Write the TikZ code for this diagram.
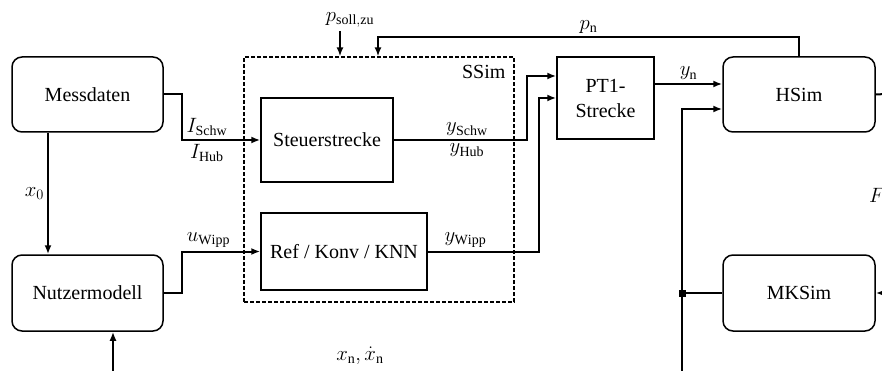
\documentclass[tikz,border=0pt]{standalone}
\usepackage{fontspec}
\setmainfont{Liberation Serif}
\usetikzlibrary{arrows.meta, positioning, calc}

\begin{document}
\begin{tikzpicture}[x=1pt, y=-1pt, >={Latex[length=9pt,width=7pt]}, font=\fontsize{20}{25}\selectfont,
		block/.style={draw, rectangle, line width=1.5pt, align=center, inner sep=0pt},
		rblock/.style={block, rounded corners=10pt},
		conn/.style={line width=2pt},
		lbl/.style={inner sep=3pt}]
				\useasboundingbox (0,0) rectangle (882,371);
				\clip (0,0) rectangle (882,371);
				
				\node[rblock, minimum width=151pt, minimum height=75pt] (mess) at (87.5,94.5) {Messdaten};
				\node[rblock, minimum width=151pt, minimum height=76pt] (nutzer) at (87.5,293) {Nutzermodell};
				
				\node[draw, line width=1.2pt, dash pattern=on 4pt off 2pt, minimum width=270pt, minimum height=245pt] (ssim) at (379,179.5) {};
				\node[anchor=north east, inner sep=0pt] (ssimlbl) at ([shift={(-9pt,-9pt)}]ssim.north east) {SSim};
				
				\node[block, minimum width=132pt, minimum height=84pt] (steuer) at (327,140) {Steuerstrecke};
				\node[block, minimum width=166pt, minimum height=77pt] (refk) at (344,251.5) {Ref / Konv / KNN};
				
				\node[block, minimum width=97pt, minimum height=82pt] (pt1) at (605.5,98) {PT1-\\Strecke};
				\node[rblock, minimum width=152pt, minimum height=75pt] (hsim) at (799,94.5) {HSim};
				\node[rblock, minimum width=152pt, minimum height=76pt] (mksim) at (799,293) {MKSim};
				
				\node[fill, minimum size=7pt, inner sep=0pt] (junc) at (682,293) {};
				\node (psoll) at (350,20) {$p_{\mathrm{soll,zu}}$};
				\node[anchor=west, inner sep=0pt] (flbl) at (869,195) {$F$};
				\coordinate (pin) at (340,31);
				\coordinate (fb) at (682,371.5);
				\coordinate (rout) at (905,93);
				
				\draw[->, conn] ([xshift=-39.5pt]mess.south) -- ([xshift=-39.5pt]nutzer.north) node[midway, left, lbl] {$x_0$};
				\draw[->, conn] (mess.east) -- ++(18,0) |- (steuer.west)
					node[pos=0.66, above, lbl] {$I_{\mathrm{Schw}}$} node[pos=0.66, below, lbl] {$I_{\mathrm{Hub}}$};
				\draw[->, conn] (nutzer.east) -- ++(18,0) |- (refk.west) node[pos=0.67, above, lbl] {$u_{\mathrm{Wipp}}$};
				\draw[->, conn] (steuer.east) -- ++(133,0) node[pos=0.55, above, lbl] {$y_{\mathrm{Schw}}$} node[pos=0.55, below, lbl] {$y_{\mathrm{Hub}}$}
					|- ([yshift=22pt]pt1.west);
				\draw[->, conn] (refk.east) -- ++(111,0) node[pos=0.34, above, lbl] {$y_{\mathrm{Wipp}}$} |- (pt1.west);
				\draw[->, conn] ([yshift=14pt]pt1.east) -- ([yshift=14pt]pt1.east -| hsim.west) node[midway, above, lbl] {$y_{\mathrm{n}}$};
				\draw[->, conn] (hsim.north) -- ++(0,-19) -| ([xshift=-1pt]ssim.north) node[pos=0.25, above, lbl] {$p_{\mathrm{n}}$};
				\draw[->, conn] (pin) -- (pin |- ssim.north);
				\draw[conn] (mksim.west) -- (junc.center);
				\draw[->, conn] (junc.center) |- ([yshift=-14.5pt]hsim.west);
				\draw[->, conn] (junc.center) -- (fb) -| ([xshift=25.5pt]nutzer.south) node[pos=0.283, above, inner sep=6pt] {$x_{\mathrm{n}}, \dot{x}_{\mathrm{n}}$};
				\draw[->, conn] (hsim.east) -- (rout) |- (mksim.east);
			\end{tikzpicture}
\end{document}
